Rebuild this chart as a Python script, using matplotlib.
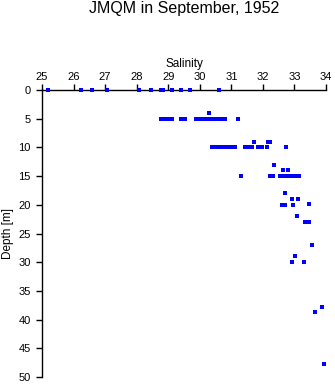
import matplotlib
matplotlib.use("Agg")
import matplotlib.pyplot as plt

plt.rcParams['font.family'] = ['Liberation Sans', 'DejaVu Sans']

# salinity / depth pairs
sal_0 = [25.2, 26.23, 26.6, 27.07, 28.08, 28.45, 28.78, 28.84, 29.13, 29.41, 29.7, 30.6]
sal_4 = [30.28]
sal_5 = [28.77, 28.9, 28.98, 29.12, 29.4, 29.53, 29.87, 29.95, 30.05, 30.12,
         30.2, 30.28, 30.35, 30.42, 30.5, 30.59, 30.66, 30.73, 30.79, 31.21]
sal_9 = [31.72, 32.15, 32.24]
sal_10 = [30.4, 30.51, 30.57, 30.72, 30.81, 30.9, 30.98, 31.07, 31.13,
          31.42, 31.51, 31.58, 31.64, 31.84, 31.97, 32.13, 32.73]
sal_13 = [32.36]
sal_14 = [32.64, 32.8]
sal_15 = [31.31, 32.22, 32.32, 32.54, 32.63, 32.7, 32.83, 32.91, 33.0, 33.08, 33.13]
sal_deep = [32.7, 32.92, 33.11, 32.6, 32.71, 32.95, 33.46, 33.08, 33.32, 33.45,
            33.55, 33.02, 32.92, 33.29, 33.87, 33.65, 33.93]
dep_deep = [18, 19, 19, 20, 20, 20, 19.8, 22, 23, 23,
            27, 29, 30, 30, 37.8, 38.7, 47.7]

salinity = (sal_0 + sal_4 + sal_5 + sal_9 + sal_10 + sal_13 + sal_14 + sal_15 + sal_deep)
depth = ([0] * len(sal_0) + [4] * len(sal_4) + [5] * len(sal_5) + [9] * len(sal_9)
         + [10] * len(sal_10) + [13] * len(sal_13) + [14] * len(sal_14)
         + [15] * len(sal_15) + dep_deep)

fig = plt.figure(figsize=(3.35, 3.84), dpi=100)
ax = fig.add_axes([42 / 335, 1 - 377 / 384, 284 / 335, 287 / 384])

ax.plot(salinity, depth, 's', color='#0000ff', markersize=2.6, markeredgewidth=0,
        clip_on=False, zorder=3)

ax.set_xlim(25, 34)
ax.set_ylim(50, 0)
ax.set_xticks(range(25, 35))
ax.set_yticks(range(0, 51, 5))

ax.xaxis.set_ticks_position('top')
ax.xaxis.set_label_position('top')
ax.spines['right'].set_visible(False)
ax.spines['bottom'].set_visible(False)
for s in ('top', 'left'):
    ax.spines[s].set_linewidth(1)
ax.tick_params(direction='out', length=4, width=1, labelsize=8)
ax.tick_params(axis='x', pad=2)
ax.tick_params(axis='y', pad=4)

ax.set_xlabel('Salinity', fontsize=8.5, labelpad=3)
ax.set_ylabel('Depth [m]', fontsize=8.5, labelpad=3)

fig.text(184 / 335, 1 - 9 / 384, 'JMQM in September, 1952', ha='center', va='center', fontsize=11.5)

fig.savefig('out.png', dpi=100)
